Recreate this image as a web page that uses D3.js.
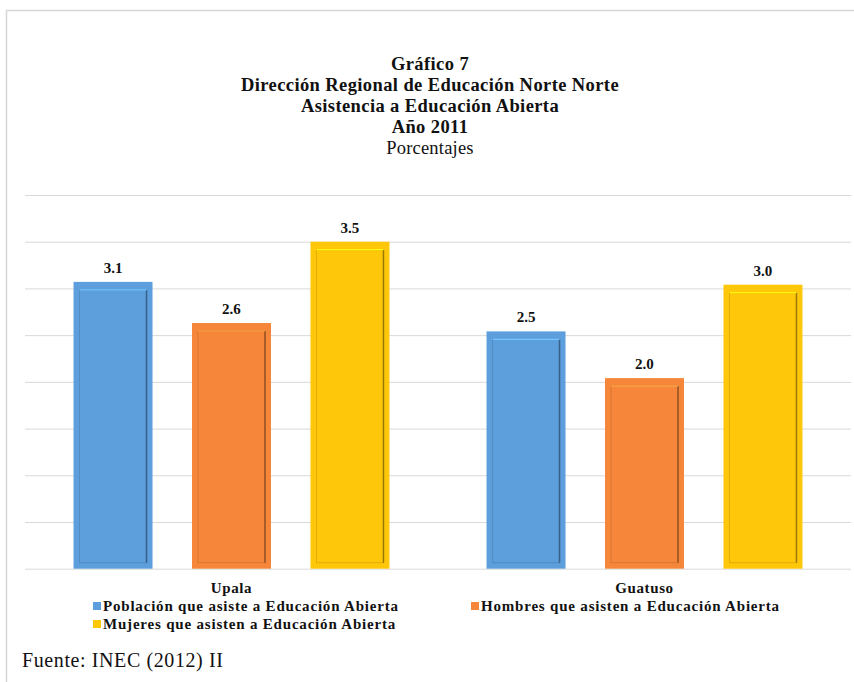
<!DOCTYPE html>
<html>
<head>
<meta charset="utf-8">
<script src="https://cdn.jsdelivr.net/npm/d3@7"></script>
<style>
  html, body { margin: 0; padding: 0; background: #ffffff; }
  svg { display: block; }
  text { font-family: "Liberation Serif", "Times New Roman", serif; fill: #111; }
</style>
</head>
<body>
<svg id="chart" width="854" height="682"></svg>
<script>
// ---- data ----
const categories = ["Upala", "Guatuso"];
const seriesNames = [
  "Población que asiste a Educación Abierta",
  "Hombres que asisten a Educación Abierta",
  "Mujeres que asisten a Educación Abierta"
];
const seriesColors = ["#5D9EDC", "#F6873A", "#FFC70A"];
const poblacion = [3.07, 2.54];
const hombres   = [2.63, 2.04];
const mujeres   = [3.50, 3.04];
const yTicks = [0, 0.5, 1, 1.5, 2, 2.5, 3, 3.5, 4];
const titleLines = ["Gráfico 7", "Dirección Regional de Educación Norte Norte", "Asistencia a Educación Abierta", "Año 2011"];
const subtitle = "Porcentajes";
const source = "Fuente: INEC (2012) II";

const seriesValues = [poblacion, hombres, mujeres];
const data = categories.map((c, i) => ({
  cat: c,
  vals: seriesNames.map((s, j) => ({ key: s, idx: j, value: seriesValues[j][i] }))
}));

const svg = d3.select("#chart");

// frame
svg.append("rect")
  .attr("x", 6.5).attr("y", 10.5)
  .attr("width", 900).attr("height", 720)
  .attr("fill", "none").attr("stroke", "#d6d6d6").attr("stroke-width", 1.5);

// titles
const lineGap = 21;
const title = svg.append("g");
titleLines.forEach((t, i) => {
  title.append("text")
    .attr("x", 430).attr("y", 70 + i * lineGap)
    .attr("text-anchor", "middle")
    .attr("font-size", 18.5).attr("font-weight", "bold")
    .attr("letter-spacing", 0.4)
    .text(t);
});
title.append("text")
  .attr("x", 430).attr("y", 70 + 4 * lineGap)
  .attr("text-anchor", "middle")
  .attr("font-size", 18.5)
  .attr("letter-spacing", 0.2)
  .text(subtitle);

// scales
const x0 = d3.scaleBand().domain(categories).range([25, 851])
  .paddingInner(0.235).paddingOuter(0.1175);
const x1 = d3.scaleBand().domain(seriesNames).range([0, x0.bandwidth()])
  .paddingInner(1 / 3).paddingOuter(0);
const y = d3.scaleLinear().domain([0, 4]).range([568.7, 195]);

// gridlines
svg.append("g")
  .attr("transform", "translate(25,0)")
  .call(d3.axisLeft(y).tickValues(yTicks).tickSize(-826).tickFormat(""))
  .call(g => g.select(".domain").remove())
  .call(g => g.selectAll(".tick line").attr("stroke", "#d9d9d9").attr("stroke-width", 1));

// bars
const groups = svg.append("g").selectAll("g")
  .data(data).join("g")
  .attr("transform", d => `translate(${x0(d.cat)},0)`);

const bar = groups.selectAll("g.bar")
  .data(d => d.vals).join("g").attr("class", "bar");

bar.append("rect")
  .attr("x", d => x1(d.key))
  .attr("y", d => y(d.value))
  .attr("width", x1.bandwidth())
  .attr("height", d => y(0) - y(d.value))
  .attr("fill", d => seriesColors[d.idx]);

// inner bevel
bar.append("rect")
  .attr("x", d => x1(d.key) + 6)
  .attr("y", d => y(d.value) + 8)
  .attr("width", x1.bandwidth() - 12)
  .attr("height", d => y(0) - y(d.value) - 14)
  .attr("fill", "none")
  .attr("stroke", d => d3.color(seriesColors[d.idx]).darker(0.7))
  .attr("stroke-opacity", 0.55)
  .attr("stroke-width", 1);
bar.append("line")
  .attr("x1", d => x1(d.key) + x1.bandwidth() - 6)
  .attr("x2", d => x1(d.key) + x1.bandwidth() - 6)
  .attr("y1", d => y(d.value) + 8)
  .attr("y2", d => y(0) - 6)
  .attr("stroke", d => d3.color(seriesColors[d.idx]).darker(1.4))
  .attr("stroke-width", 1.5);
bar.append("line")
  .attr("x1", d => x1(d.key) + 6)
  .attr("x2", d => x1(d.key) + x1.bandwidth() - 6)
  .attr("y1", d => y(d.value) + 8)
  .attr("y2", d => y(d.value) + 8)
  .attr("stroke", d => d3.color(seriesColors[d.idx]).brighter(0.6))
  .attr("stroke-width", 1.2);

// value labels
bar.append("text")
  .attr("x", d => x1(d.key) + x1.bandwidth() / 2)
  .attr("y", d => y(d.value) - 9)
  .attr("text-anchor", "middle")
  .attr("font-size", 15).attr("font-weight", "bold")
  .text(d => d.value.toFixed(1));

// category labels
svg.append("g").selectAll("text")
  .data(categories).join("text")
  .attr("x", d => x0(d) + x0.bandwidth() / 2)
  .attr("y", 593)
  .attr("text-anchor", "middle")
  .attr("font-size", 15).attr("font-weight", "bold")
  .attr("letter-spacing", 0.6)
  .text(d => d);

// legend
const legendPos = [
  { x: 93, y: 611 },
  { x: 471, y: 611 },
  { x: 93, y: 629 }
];
const legend = svg.append("g").selectAll("g")
  .data(seriesNames).join("g")
  .attr("transform", (d, i) => `translate(${legendPos[i].x},${legendPos[i].y})`);
legend.append("rect")
  .attr("x", 0).attr("y", -9).attr("width", 8).attr("height", 8)
  .attr("fill", (d, i) => seriesColors[i]);
legend.append("text")
  .attr("x", 10).attr("y", 0)
  .attr("font-size", 15).attr("font-weight", "bold")
  .attr("letter-spacing", 0.8)
  .text(d => d);

// source
svg.append("text")
  .attr("x", 22).attr("y", 667)
  .attr("font-size", 20)
  .attr("letter-spacing", 0.6)
  .text(source);
</script>
</body>
</html>
